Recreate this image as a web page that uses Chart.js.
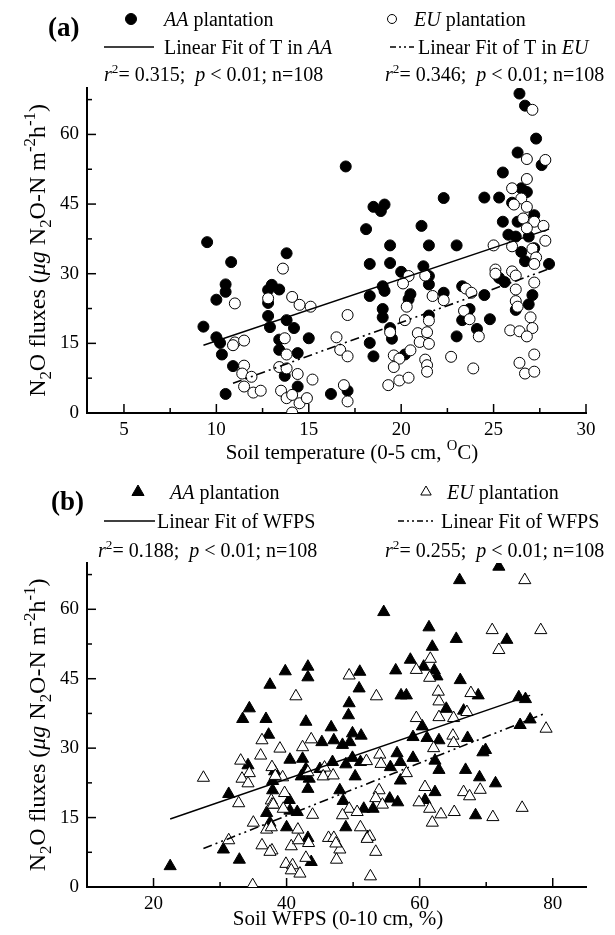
<!DOCTYPE html>
<html><head><meta charset="utf-8">
<script src="https://cdn.jsdelivr.net/npm/chart.js@4.4.1/dist/chart.umd.min.js"></script>
<style>
html,body{margin:0;padding:0;background:#fff;width:615px;height:935px;overflow:hidden}
.p{position:absolute;left:0}
</style></head><body>
<div class="p" style="top:0"><canvas id="ca" width="615" height="465"></canvas></div>
<div class="p" style="top:465px"><canvas id="cb" width="615" height="470"></canvas></div>
<script>
// ---------- DATA ----------
// Panel (a): soil temperature (°C) vs N2O flux
const aaTemp = [[9.5,36.8],[10.8,32.5],[13.8,34.4],[10.5,27.7],[10.5,26.1],[10.0,24.4],[12.8,26.5],[13.0,27.6],[13.4,26.6],[12.8,23.7],[9.3,18.6],[12.8,20.9],[13.8,20.0],[12.9,18.5],[14.2,18.3],[10.0,16.3],[10.2,15.1],[13.4,15.8],[15.0,16.1],[10.3,12.6],[13.4,13.6],[14.4,12.9],[10.9,10.1],[13.7,8.0],[14.4,5.7],[10.5,4.1],
 [26.4,68.8],[26.7,66.2],[27.3,59.1],[26.3,56.1],[27.6,53.4],[17.0,53.1],[25.5,51.8],[26.5,48.4],[26.8,47.6],[18.5,44.4],[19.1,44.9],[18.9,43.5],[22.3,46.3],[24.5,46.4],[25.3,46.4],[26.0,45.3],[18.1,39.6],[21.1,40.3],[25.5,41.2],[26.3,41.2],[27.2,42.6],[25.8,38.4],[26.2,38.0],[26.9,38.0],[19.4,36.1],[21.5,36.1],[23.0,36.1],[26.5,34.7],[27.2,35.5],[18.3,32.1],[19.4,32.3],[21.2,31.6],[26.7,32.7],[28.0,32.1],[20.0,30.4],[21.5,29.5],[25.3,29.1],[25.6,28.2],[19.0,27.3],[19.1,26.3],[20.5,25.6],[20.4,24.5],[21.5,27.7],[22.3,25.9],[23.3,27.3],[24.5,25.4],[18.3,25.2],[27.1,25.4],[26.9,23.4],[26.2,22.2],[19.0,22.4],[19.0,20.6],[21.5,21.0],[23.3,20.0],[23.7,22.4],[24.8,20.2],[19.4,18.3],[19.5,16.0],[24.1,18.1],[23.0,16.5],[18.3,15.1],[18.5,12.2],[20.2,12.6],[16.2,4.1],[17.1,4.8]];
const euTemp = [[13.6,31.1],[14.1,25.0],[14.5,23.3],[15.1,22.9],[12.8,24.7],[11.0,23.6],[13.7,16.1],[11.0,15.2],[10.9,14.6],[11.5,15.6],[13.8,12.6],[11.5,10.2],[11.4,8.5],[11.9,7.8],[13.4,9.9],[13.8,9.6],[14.4,8.4],[15.2,7.2],[11.5,5.7],[12.0,4.4],[12.4,4.8],[13.5,4.8],[13.8,3.2],[14.1,3.9],[14.5,2.1],[14.9,3.2],[14.1,0.1],
 [27.1,65.3],[26.8,54.7],[27.8,54.5],[26.8,50.4],[26.0,48.4],[26.5,46.2],[26.1,44.9],[26.8,44.4],[26.6,41.9],[27.2,41.2],[27.7,40.3],[26.8,39.8],[27.8,37.1],[25.0,36.1],[26.0,35.9],[27.1,35.4],[27.3,33.5],[27.2,32.1],[25.1,30.9],[26.0,30.5],[26.2,29.6],[27.2,28.1],[25.1,30.0],[20.4,29.5],[20.1,27.9],[21.3,29.6],[21.7,25.2],[22.3,24.3],[23.5,26.8],[23.8,25.9],[20.3,22.9],[21.5,19.9],[20.2,20.0],[23.4,22.0],[23.7,20.2],[26.2,26.6],[26.2,24.1],[26.3,22.9],[27.0,20.6],[27.1,18.3],[25.9,17.8],[26.4,17.6],[26.8,16.5],[20.9,17.2],[21.4,17.4],[21.0,15.3],[21.5,14.9],[19.4,17.4],[24.2,16.5],[17.1,21.1],[16.5,16.3],[16.7,13.6],[17.1,12.2],[19.6,12.4],[19.9,11.7],[20.5,13.5],[19.6,9.9],[21.3,11.5],[21.4,10.3],[21.4,8.9],[22.7,12.1],[23.9,9.6],[26.4,10.8],[27.2,12.6],[26.7,8.5],[27.2,8.9],[19.3,6.0],[19.9,7.0],[20.4,7.6],[16.9,6.0],[17.1,2.5]];
const fitAaTemp = [[9.3,14.6],[28.0,39.6]];
const fitEuTemp = [[10.9,6.4],[27.9,30.9]];

// Panel (b): soil WFPS (%) vs N2O flux
const aaWfps = [[39.8,46.6],[43.2,47.6],[43.2,45.3],[37.5,43.7],[34.4,38.6],[33.4,36.3],[36.9,36.3],[37.3,32.9],[42.9,35.7],[40.5,27.5],[42.4,27.7],[34.2,26.3],[38.2,25.0],[42.9,25.5],[42.2,23.9],[43.4,23.4],[43.2,21.2],[37.9,22.9],[37.9,20.9],[31.3,20.1],[40.4,18.8],[40.5,16.5],[41.6,16.2],[37.0,16.0],[37.5,13.9],[40.0,12.9],[43.2,10.6],[30.5,8.1],[32.9,5.9],[22.5,4.5],[43.7,5.4],[45.3,31.3],[45.0,25.5],
 [71.9,69.2],[66.0,66.3],[54.6,59.4],[61.4,56.1],[73.1,53.4],[65.5,53.6],[61.9,51.9],[58.6,49.1],[60.6,47.6],[62.2,46.8],[62.6,45.5],[51.0,46.5],[56.4,46.8],[66.1,44.7],[50.9,42.9],[57.2,41.4],[58.0,41.4],[68.8,41.4],[74.9,41.0],[75.9,40.6],[49.4,39.7],[64.0,38.5],[66.6,38.1],[49.3,37.1],[60.4,34.7],[76.6,36.2],[75.1,35.0],[46.7,34.5],[49.9,33.2],[51.2,32.7],[59.0,32.4],[61.1,32.2],[62.9,31.7],[67.2,32.2],[47.1,31.7],[48.4,30.7],[49.5,31.3],[56.6,28.9],[57.1,27.0],[55.6,25.9],[59.0,27.9],[62.3,27.3],[62.9,25.3],[69.9,29.6],[69.5,29.1],[49.9,27.9],[51.1,27.0],[48.9,26.5],[46.9,27.0],[66.9,25.3],[50.3,23.9],[57.1,23.0],[69.0,23.7],[71.4,22.4],[62.3,20.5],[48.0,20.9],[48.5,18.6],[55.5,19.1],[56.7,18.3],[60.8,18.8],[51.6,16.9],[53.0,16.9],[68.4,15.5],[48.9,12.9],[52.2,10.8]];
const euWfps = [[41.4,41.2],[36.3,31.7],[39.0,29.9],[42.4,30.2],[43.7,31.9],[36.1,28.4],[33.1,27.3],[34.4,24.6],[33.3,23.4],[34.2,22.4],[27.5,23.6],[37.8,25.9],[39.4,23.7],[38.3,24.0],[43.2,24.8],[45.7,25.8],[39.7,20.3],[37.7,18.7],[37.8,17.8],[38.0,17.8],[39.5,16.9],[43.9,15.6],[32.8,18.1],[35.0,13.9],[37.0,12.4],[37.7,12.9],[41.7,12.4],[43.3,9.5],[36.3,9.0],[37.8,7.9],[37.5,7.6],[40.7,8.8],[41.8,10.1],[31.3,10.1],[39.9,5.0],[40.9,4.7],[40.7,3.6],[42.0,2.9],[42.9,6.3],[34.9,0.4],[46.3,10.6],[45.5,23.9],
 [75.8,66.3],[70.9,55.5],[78.2,55.5],[71.9,51.2],[61.6,49.3],[59.5,46.9],[61.5,45.2],[49.4,45.7],[53.5,41.2],[62.8,42.2],[62.9,40.1],[67.7,41.9],[59.5,36.5],[62.9,36.7],[65.1,36.5],[67.1,37.8],[65.0,32.7],[65.1,31.1],[62.1,30.0],[79.0,34.2],[54.0,28.6],[54.2,26.6],[52.0,27.2],[58.0,24.6],[47.0,24.1],[60.8,21.6],[53.9,20.9],[53.4,19.2],[54.4,17.8],[59.9,18.3],[61.5,16.9],[63.2,15.7],[65.2,16.2],[61.9,13.9],[66.6,20.5],[67.5,19.6],[69.1,21.0],[75.4,17.1],[71.0,15.1],[49.4,16.9],[50.6,16.2],[48.4,15.5],[51.1,12.9],[52.5,10.9],[52.1,10.4],[53.4,7.6],[52.6,2.3],[48.0,8.1],[47.5,5.9],[47.1,10.6],[47.4,9.4]];
const fitAaWfps = [[22.5,14.7],[76.6,41.4]];
const fitEuWfps = [[27.5,8.3],[79.0,37.6]];

// Tick values
const yTicks = [0, 15, 30, 45, 60];
const yMinor = [7.5, 22.5, 37.5, 52.5, 67.5];
const xTicksA = [5, 10, 15, 20, 25, 30];
const xMinorA = [7.5, 12.5, 17.5, 22.5, 27.5];
const xTicksB = [20, 40, 60, 80];
const xMinorB = [30, 50, 70];

// ---------- HELPERS ----------
const SERIF = '"Liberation Serif", "Times New Roman", serif';
const pts = arr => arr.map(([x, y]) => ({x, y}));

function rich(ctx, segs, x, y, size, align, ratio) {
  const rr = ratio || 0.66;
  const parts = segs.map(s => {
    const t = s[0], f = s[1] || '';
    const small = f.includes('^') || f.includes('_');
    const sz = small ? size * rr : size;
    const font = `${f.includes('i') ? 'italic ' : ''}${f.includes('b') ? 'bold ' : ''}${sz}px ${SERIF}`;
    ctx.font = font;
    return {t, font, w: ctx.measureText(t).width, dy: f.includes('^') ? -size * 0.42 : f.includes('_') ? size * 0.25 : 0};
  });
  const total = parts.reduce((a, p) => a + p.w, 0);
  let cx = align === 'center' ? x - total / 2 : align === 'right' ? x - total : x;
  ctx.textAlign = 'left'; ctx.textBaseline = 'alphabetic'; ctx.fillStyle = '#000';
  parts.forEach(p => { ctx.font = p.font; ctx.fillText(p.t, cx, y + p.dy); cx += p.w; });
}

function marker(ctx, type, x, y, r) {
  ctx.save(); ctx.lineWidth = 1; ctx.strokeStyle = '#000';
  ctx.beginPath();
  if (type.startsWith('circle')) ctx.arc(x, y, r, 0, Math.PI * 2);
  else { ctx.moveTo(x, y - r); ctx.lineTo(x + r * 0.866, y + r * 0.5); ctx.lineTo(x - r * 0.866, y + r * 0.5); ctx.closePath(); }
  ctx.fillStyle = type.endsWith('Open') ? '#fff' : '#000';
  ctx.fill(); ctx.stroke(); ctx.restore();
}

function hline(ctx, x1, x2, y, dash) {
  ctx.save(); ctx.lineWidth = 1.5; ctx.strokeStyle = '#000'; ctx.setLineDash(dash || []);
  ctx.beginPath(); ctx.moveTo(x1, y); ctx.lineTo(x2, y); ctx.stroke(); ctx.restore();
}

const DASHDOT = [9, 4, 2, 4, 2, 4];
const LEG = 20;
const yTitle = [['N'], ['2', '_'], ['O fluxes ('], ['μg', 'i'], [' N'], ['2', '_'], ['O-N m'], ['-2', '^'], ['h'], ['-1', '^'], [')']];

const decorPlugin = {
  id: 'decor',
  afterDraw(chart, args, o) {
    const ctx = chart.ctx, xs = chart.scales.x, ys = chart.scales.y;
    const ca = chart.chartArea;
    ctx.save(); ctx.strokeStyle = '#000'; ctx.lineWidth = 1.5;
    const tick = (x1, y1, x2, y2) => { ctx.beginPath(); ctx.moveTo(x1, y1); ctx.lineTo(x2, y2); ctx.stroke(); };
    o.xMajor.forEach(v => { const p = xs.getPixelForValue(v); tick(p, ca.bottom, p, ca.bottom - 9); });
    o.xMinor.forEach(v => { const p = xs.getPixelForValue(v); tick(p, ca.bottom, p, ca.bottom - 5); });
    yTicks.forEach(v => { if (v === 0) return; const p = ys.getPixelForValue(v); tick(ca.left, p, ca.left + 9, p); });
    yMinor.forEach(v => { const p = ys.getPixelForValue(v); tick(ca.left, p, ca.left + 5, p); });
    ctx.restore();
    ctx.save();
    ctx.translate(o.yTitleX, (ca.top + ca.bottom) / 2 + o.yTitleShift);
    ctx.rotate(-Math.PI / 2);
    rich(ctx, yTitle, 0, 0, 24, 'center', 0.7);
    ctx.restore();
    rich(ctx, o.xTitle, o.xTitleCX, o.xTitleY, 21, 'center', 0.7);
    rich(ctx, [[o.label, 'b']], o.labelX, o.labelY, 27, 'left');
    const L = o.leg;
    marker(ctx, o.m1, L.m1x, L.r1 - 7, o.mr1);
    rich(ctx, [[o.grp1, 'i'], [' plantation']], L.t1x, L.r1, LEG, 'left');
    marker(ctx, o.m2, L.m2x, L.r1 - 7, o.mr2);
    rich(ctx, [[o.grp2, 'i'], [' plantation']], L.t2x, L.r1, LEG, 'left');
    hline(ctx, L.l1a, L.l1b, L.r2 - 7);
    rich(ctx, o.fit1, L.f1x, L.r2, LEG, 'left');
    hline(ctx, L.l2a, L.l2b, L.r2 - 7, [6, 3, 2, 3, 2, 3]);
    rich(ctx, o.fit2, L.f2x, L.r2, LEG, 'left');
    rich(ctx, [['r', 'i'], ['2', '^'], ['= ' + o.r1 + ';  '], ['p', 'i'], [' < 0.01; n=108']], L.s1x, L.r3, LEG, 'left');
    rich(ctx, [['r', 'i'], ['2', '^'], ['= ' + o.r2 + ';  '], ['p', 'i'], [' < 0.01; n=108']], L.s2x, L.r3, LEG, 'left');
  }
};

function makeChart(id, cfg) {
  const H = cfg.H;
  return new Chart(document.getElementById(id), {
    data: {
      datasets: [
        {type: 'scatter', data: pts(cfg.eu), order: 1, pointStyle: cfg.shape, pointRadius: cfg.pr,
          pointBackgroundColor: '#fff', pointBorderColor: '#000', pointBorderWidth: 1},
        {type: 'scatter', data: pts(cfg.aa), order: 2, pointStyle: cfg.shape, pointRadius: cfg.pr,
          pointBackgroundColor: '#000', pointBorderColor: '#000', pointBorderWidth: 1},
        {type: 'line', data: pts(cfg.fitAa), order: 0, borderColor: '#000', borderWidth: 1.5, pointRadius: 0, fill: false},
        {type: 'line', data: pts(cfg.fitEu), order: 0, borderColor: '#000', borderWidth: 1.6, borderDash: DASHDOT, pointRadius: 0, fill: false}
      ]
    },
    options: {
      responsive: false, animation: false, devicePixelRatio: 1,
      layout: {padding: {top: cfg.top, right: 615 - cfg.right, left: 0, bottom: 0}},
      plugins: {legend: {display: false}, tooltip: {enabled: false}, decor: cfg.decor},
      scales: {
        x: {type: 'linear', min: cfg.xmin, max: cfg.xmax,
          afterFit: s => { s.height = H - cfg.bottom; },
          afterBuildTicks: s => { s.ticks = cfg.xTicks.map(v => ({value: v})); },
          grid: {display: false, drawTicks: false},
          border: {display: true, color: '#000', width: 2},
          ticks: {padding: 6, color: '#000', font: {family: SERIF, size: 19}, maxRotation: 0, autoSkip: false}},
        y: {type: 'linear', min: 0, max: 70,
          afterFit: s => { s.width = cfg.left; },
          afterBuildTicks: s => { s.ticks = yTicks.map(v => ({value: v})); },
          grid: {display: false, drawTicks: false},
          border: {display: true, color: '#000', width: 2},
          ticks: {padding: 8, color: '#000', font: {family: SERIF, size: 19}}}
      }
    },
    plugins: [decorPlugin]
  });
}

makeChart('ca', {
  H: 465, top: 88, bottom: 413, left: 87, right: 586, xmin: 3, xmax: 30, xTicks: xTicksA,
  aa: aaTemp, eu: euTemp, fitAa: fitAaTemp, fitEu: fitEuTemp, shape: 'circle', pr: 5.5,
  decor: {
    xMajor: xTicksA, xMinor: xMinorA, yTitleX: 45, yTitleShift: 0,
    xTitle: [['Soil temperature (0-5 cm, '], ['O', '^'], ['C)']], xTitleCX: 352, xTitleY: 459,
    label: '(a)', labelX: 48, labelY: 36,
    m1: 'circle', m2: 'circleOpen', mr1: 5.5, mr2: 4.5, grp1: 'AA', grp2: 'EU',
    fit1: [['Linear Fit of T in '], ['AA', 'i']], fit2: [['Linear Fit of T in '], ['EU', 'i']],
    r1: '0.315', r2: '0.346',
    leg: {r1: 26, r2: 54, r3: 81, m1x: 131, t1x: 164, m2x: 392, t2x: 414,
      l1a: 104, l1b: 154, f1x: 164, l2a: 390, l2b: 414, f2x: 418, s1x: 104, s2x: 385}
  }
});

makeChart('cb', {
  H: 470, top: 98, bottom: 422, left: 87, right: 586, xmin: 10, xmax: 85, xTicks: xTicksB,
  aa: aaWfps, eu: euWfps, fitAa: fitAaWfps, fitEu: fitEuWfps, shape: 'triangle', pr: 7,
  decor: {
    xMajor: xTicksB, xMinor: xMinorB, yTitleX: 45, yTitleShift: 0,
    xTitle: [['Soil WFPS (0-10 cm, %)']], xTitleCX: 338, xTitleY: 460,
    label: '(b)', labelX: 51, labelY: 45,
    m1: 'triangle', m2: 'triangleOpen', mr1: 7, mr2: 6, grp1: 'AA', grp2: 'EU',
    fit1: [['Linear Fit of WFPS']], fit2: [['Linear Fit of WFPS']],
    r1: '0.188', r2: '0.255',
    leg: {r1: 34, r2: 63, r3: 92, m1x: 138, t1x: 170, m2x: 426, t2x: 447,
      l1a: 104, l1b: 155, f1x: 157, l2a: 398, l2b: 434, f2x: 441, s1x: 98, s2x: 385}
  }
});
</script>
</body></html>
